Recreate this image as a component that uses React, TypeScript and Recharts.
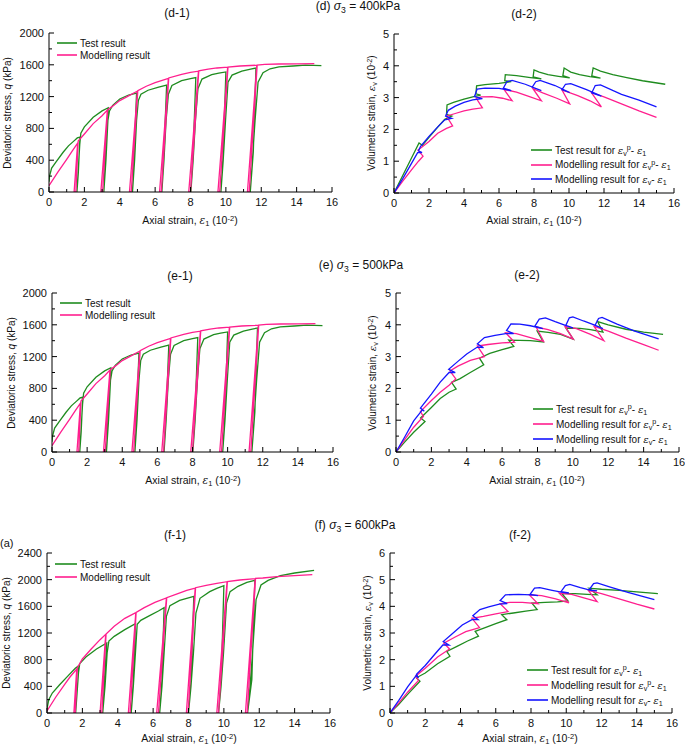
import React from 'react';
import { LineChart, Line, XAxis, YAxis } from 'recharts';

type XY = [number, number];

const GREEN = '#1f8c1f';
const PINK = '#ff1f8e';
const BLUE = '#1515ff';
const FONT = '"Liberation Sans", Arial, sans-serif';

// axis ticks (minor + major), labels only on majors
const X_TICKS = [0, 1, 2, 3, 4, 5, 6, 7, 8, 9, 10, 11, 12, 13, 14, 15, 16];
const Q_TICKS_2000 = [0, 200, 400, 600, 800, 1000, 1200, 1400, 1600, 1800, 2000];
const Q_TICKS_2400 = [0, 200, 400, 600, 800, 1000, 1200, 1400, 1600, 1800, 2000, 2200, 2400];
const EV_TICKS_5 = [0, 0.5, 1, 1.5, 2, 2.5, 3, 3.5, 4, 4.5, 5];
const EV_TICKS_6 = [0, 0.5, 1, 1.5, 2, 2.5, 3, 3.5, 4, 4.5, 5, 5.5, 6];

// (d) sigma3 = 400kPa, q - eps1
const D1_TEST: XY[] = [
  [0, 130], [0.03, 200], [0.15, 300], [0.4, 380], [0.8, 500], [1.1, 580], [1.4, 640], [1.6, 680], [1.75, 690],
  [1.66, 250], [1.58, 0], [1.66, 300], [1.74, 600], [1.8, 740], [2.0, 820], [2.5, 940], [3.0, 1020], [3.35, 1060],
  [3.2, 500], [3.1, 0], [3.22, 400], [3.33, 900], [3.42, 1020], [3.6, 1090], [4.0, 1170], [4.5, 1220], [4.95, 1245],
  [4.82, 500], [4.72, 0], [4.84, 400], [4.95, 900], [5.05, 1150], [5.2, 1230], [5.6, 1280], [6.2, 1320], [6.65, 1345],
  [6.5, 500], [6.38, 0], [6.5, 400], [6.62, 900], [6.75, 1230], [6.95, 1340], [7.5, 1400], [8.0, 1425], [8.3, 1440],
  [8.15, 500], [8.02, 0], [8.15, 400], [8.28, 900], [8.42, 1300], [8.65, 1420], [9.2, 1475], [9.6, 1495], [10.0, 1510],
  [9.85, 500], [9.72, 0], [9.85, 400], [9.98, 900], [10.12, 1380], [10.35, 1470], [10.9, 1520], [11.4, 1545], [11.7, 1560],
  [11.55, 500], [11.38, 0], [11.5, 400], [11.65, 900], [11.82, 1380], [12.1, 1500], [12.5, 1550], [13.0, 1575],
  [13.8, 1585], [14.5, 1595], [15.4, 1590],
];
const D1_MODEL: XY[] = [
  [0, 80], [0.5, 250], [1.0, 410], [1.3, 510], [1.62, 615], [1.42, 0], [1.52, 0], [1.65, 640], [2.0, 730], [2.5, 860],
  [3.0, 960], [3.3, 1030], [2.93, 0], [3.03, 0], [3.32, 1035], [3.6, 1080], [4.0, 1150], [4.5, 1210], [5.0, 1270],
  [4.55, 0], [4.65, 0], [5.02, 1275], [5.5, 1330], [6.0, 1375], [6.75, 1430], [6.25, 0], [6.35, 0], [6.77, 1435],
  [7.5, 1480], [8.0, 1505], [8.45, 1520], [7.9, 0], [8.0, 0], [8.47, 1525], [9.0, 1545], [9.5, 1560], [10.1, 1570],
  [9.55, 0], [9.65, 0], [10.12, 1572], [10.8, 1585], [11.75, 1595], [11.22, 0], [11.32, 0], [11.77, 1597],
  [12.2, 1605], [13.0, 1610], [14.0, 1612], [15.0, 1615],
];

// (d) volumetric strain - eps1
const D2_TEST: XY[] = [
  [0, 0], [0.5, 0.55], [1.0, 1.1], [1.43, 1.57], [1.62, 1.5], [2.0, 1.75], [2.5, 2.07], [2.9, 2.32], [3.3, 2.42],
  [3.0, 2.47], [3.03, 2.77], [3.4, 2.85], [4.0, 2.95], [4.5, 3.02], [4.95, 3.08], [4.68, 3.12], [4.72, 3.37],
  [5.2, 3.41], [6.0, 3.45], [6.7, 3.5], [6.33, 3.53], [6.36, 3.72], [7.0, 3.69], [7.8, 3.63], [8.42, 3.59],
  [7.95, 3.65], [8.0, 3.87], [8.3, 3.8], [8.8, 3.72], [9.4, 3.67], [10.04, 3.62], [9.65, 3.69], [9.72, 3.93],
  [10.1, 3.8], [10.6, 3.72], [11.2, 3.66], [11.8, 3.61], [11.3, 3.68], [11.38, 3.93], [11.8, 3.83], [12.5, 3.72],
  [13.3, 3.63], [14.2, 3.53], [15.5, 3.42],
];
const D2_MODEL_P: XY[] = [
  [0, 0], [0.5, 0.37], [1.0, 0.73], [1.4, 1.0], [1.66, 1.16], [1.37, 1.35], [1.6, 1.45], [2.0, 1.62], [2.5, 1.88],
  [3.0, 2.03], [3.35, 2.11], [3.0, 2.42], [3.5, 2.5], [4.0, 2.58], [4.5, 2.64], [5.05, 2.68], [4.7, 2.98], [5.0, 3.02],
  [5.6, 3.03], [6.2, 2.98], [6.75, 2.9], [6.28, 3.26], [7.0, 3.17], [7.7, 3.04], [8.42, 2.9], [7.94, 3.28], [8.5, 3.15],
  [9.3, 2.98], [10.04, 2.8], [9.6, 3.24], [10.5, 3.06], [11.2, 2.9], [11.85, 2.71], [11.28, 3.16], [12.0, 3.02],
  [13.0, 2.8], [14.0, 2.58], [15.0, 2.38],
];
const D2_MODEL: XY[] = [
  [0, 0], [0.5, 0.45], [1.0, 0.93], [1.35, 1.27], [1.6, 1.27], [1.4, 1.33], [1.52, 1.47], [2.0, 1.78], [2.5, 2.08],
  [2.9, 2.3], [3.3, 2.35], [2.95, 2.42], [3.1, 2.6], [3.5, 2.73], [4.0, 2.85], [4.5, 2.93], [5.05, 2.97], [4.6, 3.03],
  [4.75, 3.27], [5.2, 3.3], [6.0, 3.29], [6.7, 3.22], [6.25, 3.3], [6.45, 3.5], [6.75, 3.54], [7.5, 3.42], [8.42, 3.22],
  [7.9, 3.33], [8.1, 3.5], [8.35, 3.54], [9.2, 3.38], [10.04, 3.16], [9.6, 3.25], [9.8, 3.42], [10.1, 3.44],
  [11.0, 3.25], [11.85, 3.05], [11.3, 3.15], [11.5, 3.38], [11.8, 3.4], [13.0, 3.1], [14.0, 2.92], [15.0, 2.71],
];

// (e) sigma3 = 500kPa: the q - eps1 traces coincide with (d)
const E1_TEST: XY[] = D1_TEST;
const E1_MODEL: XY[] = D1_MODEL;

const E2_TEST: XY[] = [
  [0, 0], [0.5, 0.32], [1.0, 0.62], [1.64, 0.96], [1.39, 1.07], [2.0, 1.4], [2.5, 1.68], [3.0, 1.88], [3.4, 1.98],
  [3.14, 2.19], [3.6, 2.3], [4.2, 2.5], [4.96, 2.74], [4.72, 2.95], [5.3, 3.1], [6.0, 3.22], [6.66, 3.32], [6.37, 3.52],
  [7.0, 3.51], [7.6, 3.5], [8.33, 3.46], [7.98, 3.8], [8.6, 3.76], [9.3, 3.7], [10.02, 3.55], [9.6, 3.9], [10.4, 3.89],
  [11.0, 3.85], [11.7, 3.77], [11.4, 4.1], [12.0, 4.0], [13.0, 3.86], [14.0, 3.77], [15.1, 3.7],
];
const E2_MODEL_P: XY[] = [
  [0, 0], [0.5, 0.4], [1.0, 0.78], [1.55, 1.12], [1.38, 1.27], [2.0, 1.62], [2.5, 1.88], [3.0, 2.1], [3.38, 2.3],
  [3.05, 2.55], [3.5, 2.7], [4.2, 2.88], [5.0, 3.0], [4.6, 3.33], [5.2, 3.38], [6.0, 3.43], [6.7, 3.45], [6.2, 3.75],
  [6.8, 3.72], [7.6, 3.6], [8.35, 3.48], [7.92, 3.93], [8.6, 3.85], [9.3, 3.72], [10.02, 3.55], [9.55, 3.95],
  [10.2, 3.88], [11.0, 3.7], [11.75, 3.5], [11.2, 3.95], [12.0, 3.8], [13.0, 3.58], [14.0, 3.38], [14.85, 3.2],
];
const E2_MODEL: XY[] = [
  [0, 0], [0.5, 0.48], [1.0, 0.98], [1.5, 1.33], [1.6, 1.28], [1.38, 1.38], [2.0, 1.82], [2.5, 2.2], [3.0, 2.5],
  [3.35, 2.5], [2.98, 2.6], [3.5, 2.85], [4.0, 3.08], [4.6, 3.3], [4.95, 3.28], [4.6, 3.4], [5.0, 3.6], [5.6, 3.67],
  [6.2, 3.72], [6.65, 3.72], [6.25, 3.82], [6.5, 4.03], [7.0, 4.02], [7.6, 3.97], [8.3, 3.88], [7.85, 3.96], [8.1, 4.18],
  [8.45, 4.22], [9.0, 4.1], [9.5, 4.0], [10.0, 3.9], [9.6, 3.98], [9.8, 4.22], [10.0, 4.25], [10.6, 4.12], [11.2, 4.0],
  [11.7, 3.88], [11.25, 3.98], [11.45, 4.2], [11.65, 4.23], [12.5, 4.02], [13.5, 3.8], [14.85, 3.56],
];

// (f) sigma3 = 600kPa
const F1_TEST: XY[] = [
  [0, 60], [0.1, 200], [0.3, 300], [0.7, 420], [1.2, 560], [1.6, 670], [1.8, 710], [1.7, 300], [1.62, 0], [1.7, 300],
  [1.78, 600], [1.85, 740], [2.2, 840], [2.8, 960], [3.38, 1050], [3.25, 500], [3.15, 0], [3.28, 400], [3.4, 900],
  [3.5, 1080], [3.8, 1150], [4.4, 1250], [5.0, 1340], [4.88, 500], [4.76, 0], [4.88, 400], [5.0, 900], [5.1, 1330],
  [5.3, 1390], [5.8, 1460], [6.3, 1530], [6.62, 1580], [6.5, 500], [6.37, 0], [6.5, 400], [6.62, 900], [6.75, 1450],
  [6.95, 1610], [7.5, 1690], [8.3, 1750], [8.15, 500], [8.0, 0], [8.14, 400], [8.28, 900], [8.42, 1500], [8.65, 1720],
  [9.2, 1820], [9.6, 1870], [10.0, 1910], [9.85, 500], [9.7, 0], [9.84, 400], [9.98, 900], [10.15, 1650],
  [10.35, 1820], [10.8, 1900], [11.3, 1960], [11.75, 1990], [11.58, 500], [11.34, 0], [11.48, 400], [11.62, 900],
  [11.82, 1700], [12.1, 1920], [12.5, 1990], [13.2, 2060], [14.0, 2100], [15.1, 2140],
];
const F1_MODEL: XY[] = [
  [0, 30], [0.5, 240], [1.0, 430], [1.3, 540], [1.68, 660], [1.52, 0], [1.6, 0], [1.72, 680], [2.0, 810], [2.5, 960],
  [3.0, 1100], [3.32, 1180], [3.0, 0], [3.1, 0], [3.34, 1185], [3.8, 1300], [4.4, 1420], [5.02, 1505], [4.6, 0],
  [4.7, 0], [5.04, 1510], [5.5, 1580], [6.1, 1660], [6.75, 1725], [6.2, 0], [6.3, 0], [6.77, 1730], [7.4, 1790],
  [7.9, 1840], [8.38, 1875], [7.88, 0], [7.98, 0], [8.4, 1880], [9.0, 1915], [9.6, 1945], [10.18, 1970], [9.6, 0],
  [9.7, 0], [10.2, 1972], [10.9, 1995], [11.77, 2015], [11.22, 0], [11.32, 0], [11.79, 2018], [12.2, 2025],
  [13.0, 2045], [14.0, 2060], [15.0, 2075],
];
const F2_TEST: XY[] = [
  [0, 0], [0.5, 0.33], [1.0, 0.7], [1.7, 1.19], [1.5, 1.32], [2.0, 1.5], [2.7, 1.85], [3.4, 2.13], [3.22, 2.31],
  [3.8, 2.5], [4.4, 2.7], [5.02, 2.88], [4.83, 3.06], [5.4, 3.2], [6.0, 3.35], [6.63, 3.5], [6.34, 3.69], [7.0, 3.75],
  [7.7, 3.82], [8.35, 3.88], [8.05, 4.12], [8.8, 4.15], [9.5, 4.17], [10.1, 4.2], [9.75, 4.48], [10.5, 4.48],
  [11.2, 4.45], [11.75, 4.43], [11.3, 4.68], [12.0, 4.64], [13.0, 4.6], [14.0, 4.54], [15.2, 4.48],
];
const F2_MODEL_P: XY[] = [
  [0, 0], [0.5, 0.38], [1.0, 0.78], [1.62, 1.22], [1.45, 1.38], [2.0, 1.68], [2.7, 2.1], [3.38, 2.4], [3.05, 2.62],
  [3.7, 2.85], [4.3, 3.05], [5.08, 3.2], [4.65, 3.55], [5.3, 3.62], [6.0, 3.72], [6.7, 3.8], [6.25, 4.1], [6.8, 4.15],
  [7.5, 4.15], [8.4, 4.1], [7.9, 4.43], [8.6, 4.4], [9.4, 4.28], [10.15, 4.13], [9.6, 4.5], [10.3, 4.45], [11.0, 4.32],
  [11.75, 4.18], [11.25, 4.6], [12.0, 4.48], [13.0, 4.28], [14.0, 4.08], [15.0, 3.9],
];
const F2_MODEL: XY[] = [
  [0, 0], [0.5, 0.47], [1.0, 0.98], [1.48, 1.4], [1.62, 1.32], [1.5, 1.45], [2.0, 1.78], [2.6, 2.25], [3.0, 2.55],
  [3.35, 2.55], [3.02, 2.68], [3.5, 2.95], [4.1, 3.3], [4.65, 3.5], [5.0, 3.5], [4.7, 3.65], [5.1, 3.88], [5.6, 3.98],
  [6.2, 4.08], [6.65, 4.1], [6.25, 4.22], [6.55, 4.43], [7.3, 4.45], [8.0, 4.43], [8.4, 4.4], [7.95, 4.45], [8.2, 4.68],
  [8.5, 4.7], [9.2, 4.6], [9.8, 4.52], [10.15, 4.5], [9.7, 4.55], [9.95, 4.78], [10.2, 4.82], [10.8, 4.7], [11.4, 4.6],
  [11.75, 4.58], [11.3, 4.62], [11.55, 4.85], [11.75, 4.88], [12.5, 4.72], [13.5, 4.52], [15.0, 4.25],
];

const toPts = (a: XY[]) => a.map(([x, y]) => ({ x, y }));

const isMajor = (v: number, step: number) => Math.abs(v / step - Math.round(v / step)) < 1e-6;

const makeTick = (side: 'bottom' | 'top' | 'left' | 'right', step: number) => (p: any) => {
  const v = p.payload.value;
  const major = isMajor(v, step);
  const len = major ? 5 : 3;
  const { x, y } = p;
  const lbl = { fontSize: 11, fontFamily: FONT, fill: '#111' } as any;
  if (side === 'bottom')
    return (
      <g>
        <line x1={x} y1={y} x2={x} y2={y - len} stroke="#000" />
        {major && <text x={x} y={y + 14} textAnchor="middle" {...lbl}>{v}</text>}
      </g>
    );
  if (side === 'top') return <line x1={x} y1={y} x2={x} y2={y + len} stroke="#000" />;
  if (side === 'left')
    return (
      <g>
        <line x1={x} y1={y} x2={x + len} y2={y} stroke="#000" />
        {major && <text x={x - 5} y={y + 4} textAnchor="end" {...lbl}>{v}</text>}
      </g>
    );
  return <line x1={x} y1={y} x2={x - len} y2={y} stroke="#000" />;
};

type Series = { data: XY[]; color: string };

function Panel(props: {
  left: number; top: number; w: number; h: number;
  yMax: number; yTicks: number[]; yStep: number; series: Series[];
}) {
  const { left, top, w, h, yMax, yTicks, yStep, series } = props;
  const axisLine = { stroke: '#000', strokeWidth: 1 };
  return (
    <div style={{ position: 'absolute', left: left - 50, top: top - 10 }}>
      <LineChart width={w + 60} height={h + 40} margin={{ top: 10, right: 10, bottom: 0, left: 0 }}>
        <XAxis xAxisId={0} type="number" dataKey="x" domain={[0, 16]} ticks={X_TICKS} interval={0} height={30}
          tickSize={0} tickMargin={0} tickLine={false} axisLine={axisLine} tick={makeTick('bottom', 2)} allowDataOverflow />
        <XAxis xAxisId="top" orientation="top" type="number" dataKey="x" domain={[0, 16]} ticks={X_TICKS} interval={0}
          height={0} tickSize={0} tickMargin={0} tickLine={false} axisLine={axisLine} tick={makeTick('top', 2)} allowDataOverflow />
        <YAxis yAxisId={0} type="number" domain={[0, yMax]} ticks={yTicks} interval={0} width={50}
          tickSize={0} tickMargin={0} tickLine={false} axisLine={axisLine} tick={makeTick('left', yStep)} allowDataOverflow />
        <YAxis yAxisId="right" orientation="right" type="number" domain={[0, yMax]} ticks={yTicks} interval={0} width={0}
          tickSize={0} tickMargin={0} tickLine={false} axisLine={axisLine} tick={makeTick('right', yStep)} allowDataOverflow />
        {series.map((s, i) => (
          <Line key={i} xAxisId={0} yAxisId={0} data={toPts(s.data)} dataKey="y" type="linear" stroke={s.color}
            strokeWidth={1.3} dot={false} activeDot={false} isAnimationActive={false} />
        ))}
      </LineChart>
    </div>
  );
}

const Sub = ({ children }: { children: React.ReactNode }) => (
  <span style={{ fontSize: '0.72em', position: 'relative', top: '0.3em' }}>{children}</span>
);
const Sup = ({ children }: { children: React.ReactNode }) => (
  <span style={{ fontSize: '0.72em', position: 'relative', top: '-0.45em' }}>{children}</span>
);
const Eps = () => <i style={{ fontFamily: '"DejaVu Serif", serif' }}>ε</i>;

function Txt({ x, y, size = 11, rotate = 0, left = false, children }: any) {
  return (
    <div style={{
      position: 'absolute', left: x, top: y, whiteSpace: 'nowrap', fontFamily: FONT, fontSize: size, color: '#111',
      lineHeight: 1, transform: `translate(${left ? '0' : '-50%'},-50%) rotate(${rotate}deg)`,
    }}>{children}</div>
  );
}

function LegendRows({ x1, x2, rows, items }: { x1: number; x2: number; rows: number[]; items: { color: string; label: React.ReactNode }[] }) {
  return (
    <>
      {items.map((it, i) => (
        <div key={i} style={{ position: 'absolute', left: x1, top: rows[i] - 7, height: 14, display: 'flex', alignItems: 'center', whiteSpace: 'nowrap', fontFamily: FONT, fontSize: 10, color: '#111' }}>
          <svg width={x2 - x1} height={4} style={{ display: 'block' }}>
            <line x1={0} y1={2} x2={x2 - x1} y2={2} stroke={it.color} strokeWidth={1.6} />
          </svg>
          <span style={{ marginLeft: 3 }}>{it.label}</span>
        </div>
      ))}
    </>
  );
}

const qLabel = <>Deviatoric stress, <i>q</i> (kPa)</>;
const evLabel = <>Volumetric strain, <Eps /><Sub>v</Sub> (10<Sup>-2</Sup>)</>;
const e1Label = <>Axial strain, <Eps /><Sub>1</Sub> (10<Sup>-2</Sup>)</>;
const stressLegend = [
  { color: GREEN, label: 'Test result' },
  { color: PINK, label: 'Modelling result' },
];
const volLegend = [
  { color: GREEN, label: <>Test result for <Eps /><Sub>v</Sub><Sup>p</Sup>- <Eps /><Sub>1</Sub></> },
  { color: PINK, label: <>Modelling result for <Eps /><Sub>v</Sub><Sup>p</Sup>- <Eps /><Sub>1</Sub></> },
  { color: BLUE, label: <>Modelling result for <Eps /><Sub>v</Sub>- <Eps /><Sub>1</Sub></> },
];

export default function App() {
  return (
    <div style={{ position: 'absolute', left: 0, top: 0, width: 685, height: 747, background: '#fff', overflow: 'hidden' }}>
      <Panel left={49} top={33} w={283} h={159} yMax={2000} yTicks={Q_TICKS_2000} yStep={400}
        series={[{ data: D1_TEST, color: GREEN }, { data: D1_MODEL, color: PINK }]} />
      <Panel left={394} top={34} w={280} h={159} yMax={5} yTicks={EV_TICKS_5} yStep={1}
        series={[{ data: D2_TEST, color: GREEN }, { data: D2_MODEL_P, color: PINK }, { data: D2_MODEL, color: BLUE }]} />
      <Panel left={52} top={293} w={281} h={159} yMax={2000} yTicks={Q_TICKS_2000} yStep={400}
        series={[{ data: E1_TEST, color: GREEN }, { data: E1_MODEL, color: PINK }]} />
      <Panel left={396} top={293} w={283} h={159} yMax={5} yTicks={EV_TICKS_5} yStep={1}
        series={[{ data: E2_TEST, color: GREEN }, { data: E2_MODEL_P, color: PINK }, { data: E2_MODEL, color: BLUE }]} />
      <Panel left={47} top={553} w={283} h={160} yMax={2400} yTicks={Q_TICKS_2400} yStep={400}
        series={[{ data: F1_TEST, color: GREEN }, { data: F1_MODEL, color: PINK }]} />
      <Panel left={390} top={553} w={282} h={160} yMax={6} yTicks={EV_TICKS_6} yStep={1}
        series={[{ data: F2_TEST, color: GREEN }, { data: F2_MODEL_P, color: PINK }, { data: F2_MODEL, color: BLUE }]} />

      <Txt x={358} y={6} size={12}>(d) <i>σ</i><Sub>3</Sub> = 400kPa</Txt>
      <Txt x={177} y={13} size={12}>(d-1)</Txt>
      <Txt x={524} y={14} size={12}>(d-2)</Txt>
      <Txt x={361} y={265} size={12}>(e) <i>σ</i><Sub>3</Sub> = 500kPa</Txt>
      <Txt x={180} y={276} size={12}>(e-1)</Txt>
      <Txt x={527} y={275} size={12}>(e-2)</Txt>
      <Txt x={355} y={525} size={12}>(f) <i>σ</i><Sub>3</Sub> = 600kPa</Txt>
      <Txt x={175} y={535} size={12}>(f-1)</Txt>
      <Txt x={520} y={535} size={12}>(f-2)</Txt>
      <Txt x={0} y={543} size={11} left>(a)</Txt>

      <Txt x={8} y={113} size={10} rotate={-90}>{qLabel}</Txt>
      <Txt x={12} y={373} size={10} rotate={-90}>{qLabel}</Txt>
      <Txt x={7} y={633} size={10} rotate={-90}>{qLabel}</Txt>
      <Txt x={372} y={113} size={10} rotate={-90}>{evLabel}</Txt>
      <Txt x={373} y={373} size={10} rotate={-90}>{evLabel}</Txt>
      <Txt x={368} y={633} size={10} rotate={-90}>{evLabel}</Txt>

      <Txt x={190} y={220} size={10.5}>{e1Label}</Txt>
      <Txt x={534} y={220} size={10.5}>{e1Label}</Txt>
      <Txt x={193} y={480} size={10.5}>{e1Label}</Txt>
      <Txt x={537} y={480} size={10.5}>{e1Label}</Txt>
      <Txt x={189} y={738} size={10.5}>{e1Label}</Txt>
      <Txt x={530} y={738} size={10.5}>{e1Label}</Txt>

      <LegendRows x1={57} x2={77} rows={[43, 55]} items={stressLegend} />
      <LegendRows x1={60} x2={82} rows={[303, 315]} items={stressLegend} />
      <LegendRows x1={55} x2={77} rows={[564, 577]} items={stressLegend} />
      <LegendRows x1={531} x2={552} rows={[150, 164.5, 179]} items={volLegend} />
      <LegendRows x1={533} x2={553} rows={[409, 424, 439]} items={volLegend} />
      <LegendRows x1={527} x2={548} rows={[670, 685, 700]} items={volLegend} />
    </div>
  );
}
